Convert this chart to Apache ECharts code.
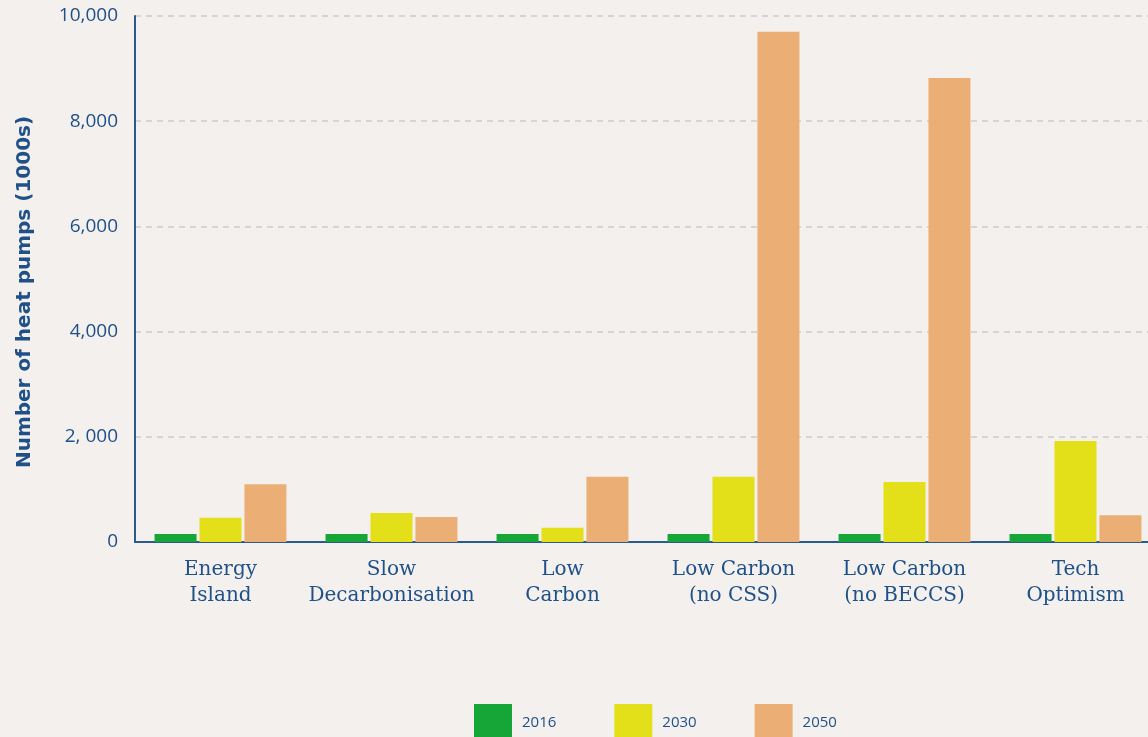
<!DOCTYPE html>
<html>
<head>
<meta charset="utf-8">
<script src="https://cdn.jsdelivr.net/npm/echarts@6/dist/echarts.min.js"></script>
<style>
  html, body { margin: 0; padding: 0; background: #f3f0ed; }
  #chart { width: 1148px; height: 737px; }
</style>
</head>
<body>
<div id="chart"></div>
<script>
// scenarios on the x axis
const scenarios = [
  'Energy\nIsland',
  'Slow\nDecarbonisation',
  'Low\nCarbon',
  'Low Carbon\n(no CSS)',
  'Low Carbon\n(no BECCS)',
  'Tech\nOptimism'
];

// heat pumps, thousands
const pumps2016 = [150, 150, 150, 150, 150, 150];
const pumps2030 = [460, 550, 270, 1240, 1140, 1920];
const pumps2050 = [1100, 475, 1240, 9700, 8820, 510];

const yTickLabels = { 0: '0', 2000: '2, 000', 4000: '4,000', 6000: '6,000', 8000: '8,000', 10000: '10,000' };

const blue = '#1f5088';

const chart = echarts.init(document.getElementById('chart'));

const bar = (name, data, color) => ({
  name: name,
  type: 'bar',
  data: data,
  barWidth: 42,
  barGap: '7%',
  itemStyle: { color: color },
  emphasis: { disabled: true }
});

chart.setOption({
  backgroundColor: '#f3f0ed',
  animation: false,
  grid: { left: 135, top: 16, width: 1026, bottom: 195, containLabel: false, outerBoundsMode: 'none' },
  legend: {
    bottom: -10,
    left: 469,
    itemWidth: 38,
    itemHeight: 38,
    itemGap: 58,
    icon: 'rect',
    textStyle: { color: blue, fontSize: 15, fontFamily: 'Open Sans', padding: [6, 0, 0, 5] },
    data: ['2016', '2030', '2050']
  },
  xAxis: {
    type: 'category',
    data: scenarios,
    axisLine: { lineStyle: { color: '#2b5b8e', width: 2 } },
    axisTick: { show: false },
    axisLabel: {
      color: blue,
      fontSize: 20,
      fontFamily: 'DejaVu Serif',
      lineHeight: 26,
      margin: 15,
      interval: 0
    }
  },
  yAxis: {
    type: 'value',
    min: 0,
    max: 10000,
    interval: 2000,
    name: 'Number of heat pumps (1000s)',
    nameLocation: 'middle',
    nameGap: 100,
    nameTextStyle: {
      color: blue,
      fontSize: 20,
      fontWeight: 'bold',
      fontFamily: 'DejaVu Sans',
      padding: [0, 26, 0, 0]
    },
    axisLine: { show: true, lineStyle: { color: '#2b5b8e', width: 2 } },
    axisTick: { show: false },
    axisLabel: {
      color: blue,
      fontSize: 19,
      fontFamily: 'Open Sans',
      margin: 17,
      formatter: v => yTickLabels[v]
    },
    splitLine: { lineStyle: { color: '#cfcbc7', type: [6, 5], width: 1.5 } }
  },
  series: [
    bar('2016', pumps2016, '#16a537'),
    bar('2030', pumps2030, '#e3e01a'),
    bar('2050', pumps2050, '#ebaf75')
  ]
});

window.addEventListener('resize', () => chart.resize());
</script>
</body>
</html>
